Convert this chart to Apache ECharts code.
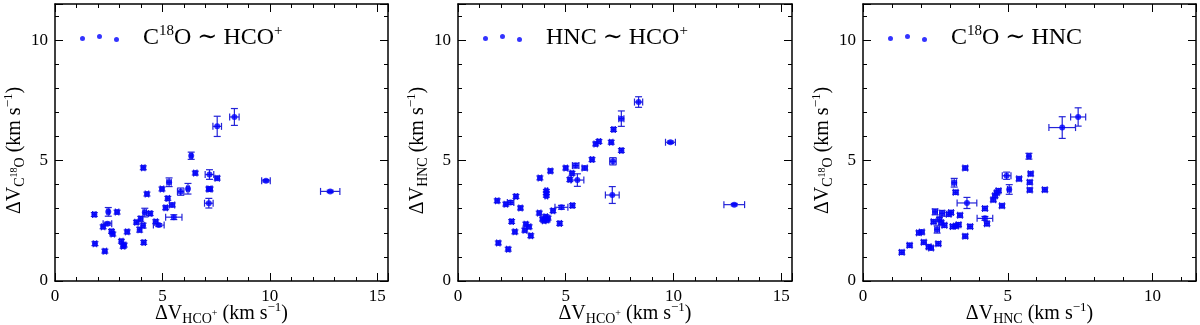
<!DOCTYPE html>
<html>
<head>
<meta charset="utf-8">
<script src="https://cdn.jsdelivr.net/npm/echarts@6/dist/echarts.min.js"></script>
<style>
    html, body { margin: 0; padding: 0; background: #fff; }
    #main { width: 1200px; height: 325px; }
</style>
</head>
<body>
<div id="main"></div>
<script>
// panel 1: C18O vs HCO+
var p1Hco = [1.83, 2.48, 2.89, 2.24, 2.44, 2.63, 2.69, 3.36, 1.86, 2.32, 3.09, 3.17, 3.22, 4.13, 4.11, 4.28, 3.79, 3.99, 4.10, 3.94, 4.18, 4.43, 4.69, 4.83, 5.53, 5.15, 5.45, 5.25, 4.98, 5.31, 5.85, 6.19, 6.34, 6.53, 7.19, 7.55, 7.16, 7.22, 7.16, 7.55, 8.35, 9.82, 12.81];
var p1C18o = [2.76, 2.87, 2.86, 2.25, 2.38, 2.06, 1.95, 2.04, 1.55, 1.24, 1.65, 1.44, 1.49, 1.60, 4.70, 3.61, 2.44, 2.58, 2.30, 2.13, 2.84, 2.80, 2.46, 2.32, 2.65, 3.04, 3.16, 3.43, 3.82, 4.10, 3.71, 3.83, 5.20, 4.48, 4.42, 4.27, 3.82, 3.82, 3.23, 6.42, 6.81, 4.16, 3.72];
var p1HcoErr = [.08, .06, .08, .08, .2, .08, .08, .08, .08, .08, .08, .08, .08, .08, .08, .08, .08, .08, .08, .08, .08, .08, .08, .25, .38, .08, .12, .08, .08, .1, .15, .06, .06, .08, .2, .1, .1, .1, .2, .2, .22, .2, .45];
var p1C18oErr = [.08, .18, .08, .08, .06, .08, .08, .08, .08, .08, .08, .08, .08, .08, .08, .08, .08, .1, .1, .1, .18, .08, .08, .06, .1, .08, .08, .08, .08, .18, .15, .22, .15, .08, .2, .08, .08, .08, .2, .42, .35, .05, .05];

// panel 2: HNC vs HCO+
var p2Hco = [1.87, 2.33, 1.82, 2.22, 2.44, 2.69, 2.90, 2.49, 2.64, 3.10, 3.15, 3.30, 3.38, 3.77, 3.92, 4.07, 4.18, 4.00, 4.13, 4.41, 4.80, 4.72, 5.31, 3.80, 4.29, 4.10, 4.10, 4.10, 5.00, 5.19, 5.29, 5.46, 5.54, 5.88, 6.22, 6.39, 6.54, 7.11, 7.19, 7.16, 7.22, 7.58, 7.58, 8.38, 9.86, 12.82];
var p2Hnc = [1.58, 1.32, 3.33, 3.19, 3.26, 3.51, 3.03, 2.47, 2.04, 2.11, 2.36, 2.25, 1.88, 2.82, 2.57, 2.67, 2.61, 2.50, 2.53, 2.92, 3.06, 2.39, 3.13, 4.28, 4.57, 3.75, 3.64, 3.53, 4.69, 4.21, 4.47, 4.79, 4.19, 4.69, 5.04, 5.69, 5.79, 5.76, 4.97, 3.57, 6.29, 6.74, 5.42, 7.43, 5.76, 3.17];
var p2HcoErr = [.08, .08, .08, .08, .15, .08, .08, .08, .08, .08, .08, .08, .08, .08, .08, .08, .08, .08, .08, .08, .3, .08, .08, .08, .08, .06, .06, .06, .08, .08, .08, .15, .3, .12, .08, .08, .08, .08, .15, .32, .08, .12, .08, .19, .23, .48];
var p2HncErr = [.08, .08, .08, .08, .08, .08, .08, .08, .08, .08, .08, .08, .08, .08, .08, .08, .08, .08, .08, .08, .08, .08, .08, .08, .08, .05, .05, .05, .08, .08, .08, .1, .26, .08, .08, .08, .08, .08, .15, .35, .08, .32, .08, .22, .05, .05];

// panel 3: C18O vs HNC
var p3Hnc = [1.34, 1.61, 1.93, 2.03, 2.10, 2.27, 2.35, 2.60, 2.44, 2.49, 2.56, 2.64, 2.73, 2.70, 2.81, 2.96, 3.04, 3.10, 3.21, 3.30, 3.35, 3.15, 3.20, 3.53, 3.59, 3.53, 3.70, 4.21, 4.21, 4.28, 4.50, 4.56, 4.62, 4.68, 4.80, 4.96, 5.05, 5.39, 5.73, 5.79, 5.76, 5.76, 6.28, 6.88, 7.43];
var p3C18o = [1.19, 1.48, 2.00, 2.03, 1.61, 1.42, 1.37, 1.55, 2.46, 2.87, 2.14, 2.56, 2.81, 2.42, 2.31, 2.77, 2.84, 2.26, 2.28, 2.34, 2.73, 4.08, 3.68, 4.69, 3.24, 1.86, 2.26, 3.01, 2.60, 2.38, 3.37, 3.54, 3.66, 3.75, 3.12, 4.37, 3.80, 4.24, 5.18, 4.45, 4.10, 3.78, 3.79, 6.37, 6.81];
var p3HncErr = [.08, .08, .08, .08, .08, .08, .08, .08, .08, .08, .08, .08, .08, .08, .08, .08, .08, .08, .08, .08, .08, .08, .08, .08, .34, .08, .08, .08, .27, .08, .08, .08, .08, .08, .08, .15, .06, .08, .06, .08, .08, .08, .08, .46, .26];
var p3C18oErr = [.08, .08, .08, .08, .08, .08, .08, .08, .08, .12, .15, .08, .12, .08, .08, .08, .08, .08, .08, .08, .08, .18, .08, .08, .23, .08, .08, .08, .08, .08, .08, .08, .08, .08, .08, .15, .2, .08, .12, .08, .08, .08, .08, .45, .38];

var legendTexts = ['{a|C}{sup|18}{n|O ∼ HCO}{sup|+}', '{a|HNC ∼ HCO}{sup|+}', '{a|C}{sup|18}{n|O ∼ HNC}'];
var xNames = [
    '{n|ΔV}{sub|HCO}{ss|+}{n| (km s}{sup|−1}{n|)}',
    '{n|ΔV}{sub|HCO}{ss|+}{n| (km s}{sup|−1}{n|)}',
    '{n|ΔV}{sub|HNC}{n| (km s}{sup|−1}{n|)}'
];
var yNames = [
    '{n|ΔV}{sub|C}{ss|18}{sub|O}{n| (km s}{sup|−1}{e|)}',
    '{n|ΔV}{sub|HNC}{n| (km s}{sup|−1}{e|)}',
    '{n|ΔV}{sub|C}{ss|18}{sub|O}{n| (km s}{sup|−1}{e|)}'
];
var xMax = [15.5, 15.5, 11.5];
var yMax = 11.5;

var FONT = "'Liberation Serif', 'DejaVu Serif', serif";
var dotColor = '#0000ff';
var errColor = '#2424d8';
var grids = [
    {left: 55, width: 333, top: 4, height: 277, outerBoundsMode: 'none'},
    {left: 458, width: 334, top: 4, height: 277, outerBoundsMode: 'none'},
    {left: 863, width: 333, top: 4, height: 277, outerBoundsMode: 'none'}
];

var panels = [
    {x: p1Hco, y: p1C18o, xe: p1HcoErr, ye: p1C18oErr},
    {x: p2Hco, y: p2Hnc, xe: p2HcoErr, ye: p2HncErr},
    {x: p3Hnc, y: p3C18o, xe: p3HncErr, ye: p3C18oErr}
];

var nameRich = {
    n: {fontFamily: FONT, fontSize: 20, color: '#000'},
    e: {fontFamily: FONT, fontSize: 20, color: '#000', padding: [0, 16, 0, 0]},
    sub: {fontFamily: FONT, fontSize: 14, color: '#000', padding: [11, 0, 0, 0]},
    ss: {fontFamily: FONT, fontSize: 10, color: '#000', padding: [0, 0, 1, 0]},
    sup: {fontFamily: FONT, fontSize: 13, color: '#000', padding: [0, 0, 12, 0]}
};

function tickLabel(v) {
    return v % 5 === 0 ? String(v) : '';
}

// 一个方向上的坐标轴: 主刻度(带标签)或者次刻度
function makeAxis(g, max, pos, major, withLabel, name, isY) {
    var ax = {
        type: 'value',
        gridIndex: g,
        min: 0,
        max: max,
        interval: major ? 5 : 1,
        position: pos,
        splitLine: {show: false},
        axisLine: {show: major, onZero: false, lineStyle: {color: '#000', width: 1.5}},
        axisTick: {show: true, inside: true, length: major ? 8 : 4, lineStyle: {color: '#000', width: 1}},
        axisLabel: {show: false}
    };
    if (withLabel) {
        ax.axisLabel = {show: true, margin: 7, color: '#000', fontFamily: FONT, fontSize: 17, formatter: tickLabel};
        ax.name = name;
        ax.nameLocation = 'middle';
        ax.nameGap = isY ? 28 : 20;
        ax.nameMoveOverlap = false;
        ax.nameTextStyle = {rich: nameRich};
        if (isY) ax.nameRotate = 90;
    }
    return ax;
}

var xAxes = [], yAxes = [];
for (var g = 0; g < 3; g++) {
    xAxes.push(makeAxis(g, xMax[g], 'bottom', true, true, xNames[g], false));
    xAxes.push(makeAxis(g, xMax[g], 'bottom', false, false));
    xAxes.push(makeAxis(g, xMax[g], 'top', true, false));
    xAxes.push(makeAxis(g, xMax[g], 'top', false, false));
    yAxes.push(makeAxis(g, yMax, 'left', true, true, yNames[g], true));
    yAxes.push(makeAxis(g, yMax, 'left', false, false));
    yAxes.push(makeAxis(g, yMax, 'right', true, false));
    yAxes.push(makeAxis(g, yMax, 'right', false, false));
}

function renderErrorBar(params, api) {
    var x = api.value(0), y = api.value(1), ex = api.value(2), ey = api.value(3);
    var c = api.coord([x, y]);
    var x0 = api.coord([x - ex, y])[0], x1 = api.coord([x + ex, y])[0];
    var y0 = api.coord([x, y - ey])[1], y1 = api.coord([x, y + ey])[1];
    var cap = 3.5;
    function seg(a, b, cc, d) {
        return {type: 'line', shape: {x1: a, y1: b, x2: cc, y2: d}, style: {stroke: errColor, lineWidth: 1.2}};
    }
    return {
        type: 'group',
        children: [
            seg(x0, c[1], x1, c[1]),
            seg(x0, c[1] - cap, x0, c[1] + cap),
            seg(x1, c[1] - cap, x1, c[1] + cap),
            seg(c[0], y0, c[0], y1),
            seg(c[0] - cap, y0, c[0] + cap, y0),
            seg(c[0] - cap, y1, c[0] + cap, y1)
        ]
    };
}

var series = [], legends = [];
var dotsIcon = 'path://M0,4.5a2.5,2.5 0 1,0 5,0a2.5,2.5 0 1,0 -5,0Z' +
    'M17,2.5a2.5,2.5 0 1,0 5,0a2.5,2.5 0 1,0 -5,0Z' +
    'M34,5.5a2.5,2.5 0 1,0 5,0a2.5,2.5 0 1,0 -5,0Z';

panels.forEach(function(p, g) {
    var rows = p.x.map(function(v, i) { return [v, p.y[i], p.xe[i], p.ye[i]]; });
    series.push({
        type: 'custom',
        xAxisIndex: g * 4,
        yAxisIndex: g * 4,
        renderItem: renderErrorBar,
        encode: {x: 0, y: 1},
        data: rows,
        z: 2
    });
    series.push({
        name: 'panel' + g,
        type: 'scatter',
        xAxisIndex: g * 4,
        yAxisIndex: g * 4,
        symbol: 'circle',
        symbolSize: 6,
        itemStyle: {color: dotColor},
        data: rows.map(function(r) { return [r[0], r[1]]; }),
        z: 3
    });
    legends.push({
        data: ['panel' + g],
        left: grids[g].left + 25,
        top: 24,
        padding: 0,
        selectedMode: false,
        icon: dotsIcon,
        itemWidth: 39,
        itemHeight: 8,
        formatter: function() { return legendTexts[g]; },
        textStyle: {
            rich: {
                a: {fontFamily: FONT, fontSize: 24, color: '#000', padding: [0, 0, 0, 19]},
                n: {fontFamily: FONT, fontSize: 24, color: '#000'},
                sup: {fontFamily: FONT, fontSize: 15, color: '#000', padding: [0, 0, 13, 0]}
            }
        }
    });
});

var chart = echarts.init(document.getElementById('main'));
chart.setOption({
    animation: false,
    backgroundColor: '#fff',
    grid: grids,
    xAxis: xAxes,
    yAxis: yAxes,
    legend: legends,
    series: series
});
</script>
</body>
</html>
